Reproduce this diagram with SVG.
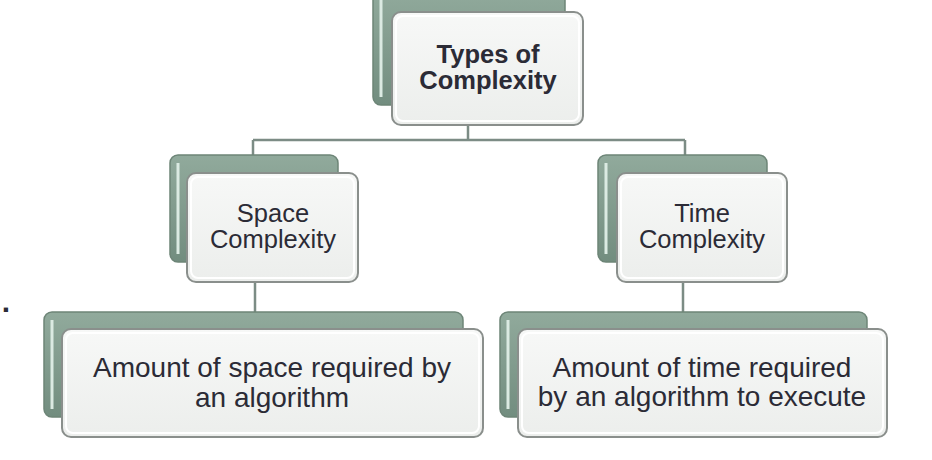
<svg xmlns="http://www.w3.org/2000/svg" width="932" height="460" viewBox="0 0 932 460">
<defs>
<linearGradient id="bg" x1="0" y1="0" x2="0" y2="1">
<stop offset="0" stop-color="#91aa9c"/>
<stop offset="1" stop-color="#728d7f"/>
</linearGradient>
<linearGradient id="fg" x1="0" y1="0" x2="0" y2="1">
<stop offset="0" stop-color="#f7f8f7"/>
<stop offset="1" stop-color="#eceeec"/>
</linearGradient>
<style>
.back{fill:url(#bg);stroke:#6d8577;stroke-width:1.5}
.hl{fill:none;stroke:#dbeae2;stroke-width:3}
.front{fill:url(#fg);stroke:#8a8f8c;stroke-width:2}
.inner{fill:none;stroke:#ffffff;stroke-width:2}
.t{font-family:"Liberation Sans",Arial,sans-serif;fill:#2b2b36;text-anchor:middle}
.conn{fill:none;stroke:#7c8c85;stroke-width:2.5}
</style>
</defs>
<rect width="932" height="460" fill="#ffffff"/>
<g id="connectors">
<path class="conn" d="M468 125 V140 M253 140 H685 M253 140 V157 M685 140 V157 M255 282 V314 M683 282 V314"/>
</g>
<g id="node-types">
<rect class="back" x="373" y="-10" width="192" height="115" rx="8"/>
<line class="hl" x1="381" y1="0" x2="381" y2="97"/>
<rect class="front" x="392" y="12" width="191" height="113" rx="9"/>
<rect class="inner" x="396" y="16" width="183" height="105" rx="7"/>
<text class="t" x="488" y="63" font-size="25.5" font-weight="bold">Types of</text>
<text class="t" x="488" y="89" font-size="25.5" font-weight="bold">Complexity</text>
</g>
<g id="node-space">
<rect class="back" x="170" y="155" width="168" height="107" rx="8"/>
<line class="hl" x1="178" y1="163" x2="178" y2="254"/>
<rect class="front" x="187" y="173" width="171" height="109" rx="9"/>
<rect class="inner" x="191" y="177" width="163" height="101" rx="7"/>
<text class="t" x="273" y="222" font-size="25.5">Space</text>
<text class="t" x="273" y="248" font-size="25.5">Complexity</text>
</g>
<g id="node-time">
<rect class="back" x="598" y="155" width="169" height="107" rx="8"/>
<line class="hl" x1="606" y1="163" x2="606" y2="254"/>
<rect class="front" x="617" y="173" width="170" height="109" rx="9"/>
<rect class="inner" x="621" y="177" width="162" height="101" rx="7"/>
<text class="t" x="702" y="222" font-size="25.5">Time</text>
<text class="t" x="702" y="248" font-size="25.5">Complexity</text>
</g>
<g id="node-space-desc">
<rect class="back" x="44" y="312" width="419" height="105" rx="8"/>
<line class="hl" x1="52" y1="320" x2="52" y2="409"/>
<rect class="front" x="62" y="329" width="421" height="108" rx="9"/>
<rect class="inner" x="66" y="333" width="413" height="100" rx="7"/>
<text class="t" x="272" y="377" font-size="28">Amount of space required by</text>
<text class="t" x="272" y="407" font-size="28">an algorithm</text>
</g>
<g id="node-time-desc">
<rect class="back" x="500" y="312" width="367" height="105" rx="8"/>
<line class="hl" x1="508" y1="320" x2="508" y2="409"/>
<rect class="front" x="518" y="329" width="369" height="108" rx="9"/>
<rect class="inner" x="522" y="333" width="361" height="100" rx="7"/>
<text class="t" x="702" y="377" font-size="28">Amount of time required</text>
<text class="t" x="702" y="406" font-size="28">by an algorithm to execute</text>
</g>
<text class="t" x="6" y="312" font-size="30" font-weight="bold">.</text>
</svg>
